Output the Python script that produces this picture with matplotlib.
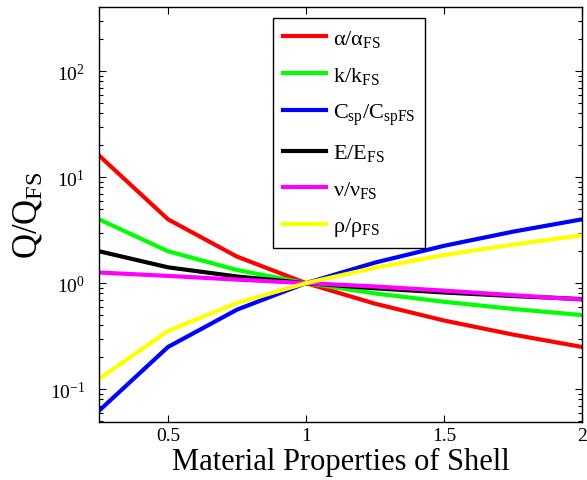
import matplotlib
matplotlib.use("Agg")
import matplotlib.pyplot as plt
from matplotlib.ticker import LogLocator, NullFormatter

plt.rcParams['font.family'] = ['Liberation Serif', 'DejaVu Serif']
plt.rcParams['mathtext.fontset'] = 'custom'
plt.rcParams['mathtext.rm'] = 'Liberation Serif'
plt.rcParams['mathtext.it'] = 'Liberation Serif'
plt.rcParams['mathtext.bf'] = 'Liberation Serif:bold'
plt.rcParams['axes.unicode_minus'] = False

# property scale factors (x axis)
xvals = [0.25, 0.5, 0.75, 1.0, 1.25, 1.5, 1.75, 2.0]

# Q/Q_FS
alpha_r = [16.0, 4.0, 1.78, 1.0, 0.64, 0.444, 0.327, 0.25]
k_r = [4.0, 2.0, 1.33, 1.0, 0.8, 0.667, 0.571, 0.5]
csp_r = [0.0625, 0.25, 0.5625, 1.0, 1.5625, 2.25, 3.06, 4.0]
E_r = [2.0, 1.41, 1.155, 1.0, 0.894, 0.816, 0.756, 0.707]
nu_r = [1.26, 1.17, 1.08, 1.0, 0.93, 0.85, 0.77, 0.70]
rho_r = [0.125, 0.354, 0.65, 1.0, 1.40, 1.84, 2.31, 2.83]

labels = [r'$\alpha/\alpha_{FS}$', r'$k/k_{FS}$', r'$C_{sp}/C_{spFS}$',
          r'$E/E_{FS}$', r'$\nu/\nu_{FS}$', r'$\rho/\rho_{FS}$']
colors = ['#ff0000', '#00ff00', '#0000ff', '#000000', '#ff00ff', '#ffff00']
series = [alpha_r, k_r, csp_r, E_r, nu_r, rho_r]

fig = plt.figure(figsize=(5.87, 4.81), dpi=100)
ax = fig.add_axes([0.1687, 0.1206, 0.8228, 0.8638])

for s, c, l in zip(series, colors, labels):
    ax.plot(xvals, s, color=c, lw=3, label=l)

ax.set_yscale('log')
ax.set_xlim(0.25, 2)
ax.set_ylim(10**-1.31, 10**2.61)
ax.set_xticks([0.5, 1, 1.5, 2])
ax.set_xticklabels(['0.5', '1', '1.5', '2'])
ax.yaxis.set_major_locator(LogLocator(base=10, numticks=10))
ax.yaxis.set_minor_locator(LogLocator(base=10, subs=range(2, 10), numticks=20))
ax.yaxis.set_minor_formatter(NullFormatter())

ax.tick_params(which='both', direction='in', top=True, right=True, labelsize=14)
ax.tick_params(which='major', length=5, width=0.8)
ax.tick_params(which='minor', length=3, width=0.8)
ax.tick_params(axis='y', which='major', pad=10)
for sp in ax.spines.values():
    sp.set_linewidth(1.0)

ax.set_xlabel('Material Properties of Shell', fontsize=22, labelpad=2)
ax.set_ylabel(r'$Q/Q_{FS}$', fontsize=25, labelpad=4)

leg = ax.legend(loc='upper left', bbox_to_anchor=(0.36, 0.972), fontsize=16,
                frameon=True, fancybox=False, framealpha=1, edgecolor='black',
                handlelength=1.95, handletextpad=0.3, borderpad=0.45,
                labelspacing=0.7, borderaxespad=0)
leg.get_frame().set_linewidth(1.0)

fig.savefig('out.png', dpi=100)
